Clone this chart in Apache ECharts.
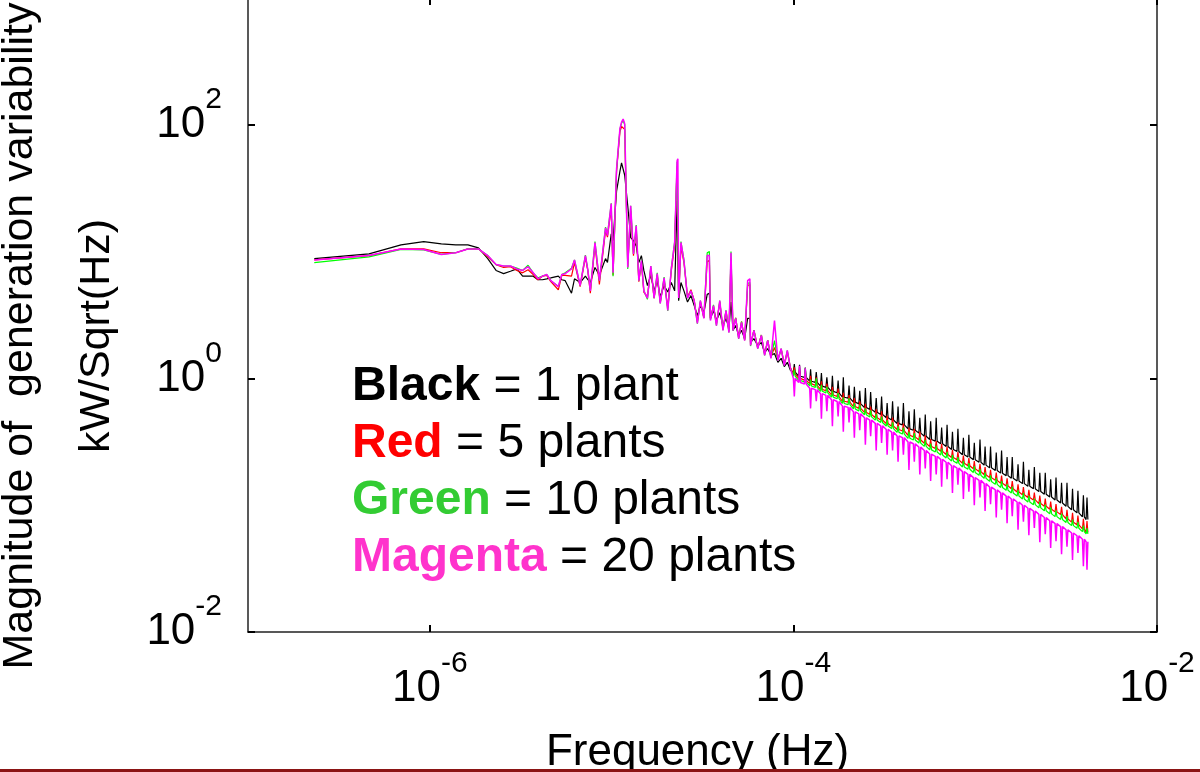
<!DOCTYPE html>
<html>
<head>
<meta charset="utf-8">
<script src="https://cdn.jsdelivr.net/npm/echarts@6/dist/echarts.min.js"></script>
<style>
  html, body { margin: 0; background: #fff; }
  #plot { width: 1200px; height: 772px; }
</style>
</head>
<body>
<div id="plot"></div>
<script>
// spectrum of solar generation, 50 days of 2-min data
// frequency = bin * DF
const DF = 1 / (50 * 86400);

// low / mid frequency bins (up to ~1e-4 Hz)
const lowBins = [1, 2, 3, 4, 5, 6, 7, 8, 9, 10, 11, 12, 13, 14, 15, 16, 17, 18, 19, 20,
  22, 23, 24, 26, 27, 29, 31, 32, 33, 35, 37,
  40, 41, 43, 44, 46, 48, 49, 50, 51,
  53, 55, 57, 59, 61, 63, 65, 68, 71, 74, 77, 80, 84, 88, 92, 96,
  99, 100, 101, 104, 108, 113, 118, 123, 128, 133, 139,
  145, 149, 150, 151, 157, 163, 170, 177, 184, 191, 196,
  199, 200, 201, 208, 216, 224, 233, 242, 249, 250, 251,
  262, 275, 288, 300, 312, 325, 340, 355, 370, 385, 400, 416];

// high frequency bins, in triples: base bin, spike bin, bin after the spike
const highBins = [432, 437, 442, 462, 467, 472, 497, 502, 508, 531, 537, 543, 570, 577, 584,
  609, 616, 623, 652, 660, 668, 700, 708, 716, 752, 761, 770, 804, 813, 822,
  864, 874, 884, 924, 935, 946, 989, 1001, 1013, 1063, 1075, 1088, 1136, 1149, 1163,
  1218, 1233, 1248, 1305, 1320, 1336, 1400, 1416, 1433, 1499, 1517, 1535, 1607, 1626, 1645,
  1719, 1740, 1761, 1845, 1867, 1889, 1974, 1998, 2022, 2117, 2142, 2168, 2268, 2295, 2322,
  2428, 2457, 2486, 2605, 2636, 2668, 2791, 2824, 2858, 2989, 3025, 3061, 3201, 3239, 3278,
  3430, 3471, 3513, 3676, 3720, 3765, 3940, 3987, 4035, 4221, 4271, 4322, 4536, 4590, 4645,
  4838, 4896, 4955, 5184, 5246, 5309, 5573, 5640, 5708, 5962, 6033, 6105, 6394, 6470, 6548,
  6826, 6908, 6991, 7344, 7432, 7521, 7862, 7956, 8051, 8424, 8525, 8627, 9029, 9137, 9247,
  9677, 9793, 9911, 10368, 10492, 10618, 11102, 11235, 11370, 11880, 12022, 12166, 12744, 12897, 13052,
  13651, 13815, 13981, 14645, 14820, 14998, 15682, 15870, 16060, 16805, 17006, 17210, 17600, 17800, 18000];

// kW/sqrt(Hz); high arrays are (base, spike) pairs, one per triple above
const blackLow = [8.8, 9.6, 11.3, 12.0, 11.5, 11.3, 11.3, 10.7, 8.8, 7.1, 6.7, 7.0, 7.3, 6.4, 6.4, 6.4, 6.0, 6.0, 6.1, 6.2,
  6.4, 6.0, 5.9, 4.7, 6.1, 5.7, 6.4, 6.0, 5.7, 7.5, 6.5,
  8.8, 8.2, 13.8, 12.2, 30, 43, 50, 50, 40,
  23, 12.9, 12.2, 11.1, 8.2, 9.3, 7.1, 5.4, 6.5, 4.9, 5.9, 4.4, 5.4, 4.8, 5.7, 4.9,
  25, 25, 4.1, 5.7, 4.9, 4.0, 4.5, 3.75, 3.13, 3.75, 3.30,
  4.6, 4.7, 4.7, 2.97, 3.43, 2.86, 3.30, 2.61, 2.97, 2.47, 4.0,
  4.0, 4.0, 2.39, 2.61, 2.18, 2.39, 2.06, 2.97, 2.97, 2.97, 1.92,
  2.06, 1.82, 1.92, 1.60, 1.72, 1.52, 1.57, 1.34, 1.44, 1.24, 1.34, 1.16];
const blackHigh = [1.12, 1.30, 1.04, 1.28, 1.02, 1.22, 0.95, 1.18, 0.93, 1.12, 0.87, 1.10, 0.85, 1.02, 0.79, 1.05, 0.77, 0.96, 0.71, 1.02,
  0.70, 0.88, 0.65, 0.86, 0.63, 0.80, 0.59, 0.84, 0.57, 0.78, 0.54, 0.70, 0.52, 0.72, 0.49, 0.64, 0.47, 0.66, 0.44, 0.60,
  0.43, 0.64, 0.40, 0.55, 0.39, 0.57, 0.37, 0.49, 0.35, 0.52, 0.33, 0.46, 0.32, 0.49, 0.305, 0.41, 0.29, 0.43, 0.275, 0.38,
  0.265, 0.40, 0.25, 0.34, 0.24, 0.36, 0.228, 0.31, 0.218, 0.33, 0.207, 0.29, 0.197, 0.29, 0.188, 0.26, 0.179, 0.27, 0.171, 0.24,
  0.163, 0.24, 0.155, 0.21, 0.148, 0.22, 0.141, 0.19, 0.135, 0.20, 0.128, 0.18, 0.122, 0.18, 0.116, 0.16, 0.110, 0.165, 0.104, 0.15,
  0.098, 0.15, 0.092, 0.135, 0.087, 0.13, 0.081, 0.12, 0.077, 0.115];

const redLow = [8.6, 9.3, 10.5, 10.5, 9.8, 9.8, 10.5, 10.5, 9.1, 7.9, 7.5, 7.6, 7.1, 6.8, 7.2, 6.6, 6.0, 6.4, 6.5, 5.8,
  5.0, 6.5, 6.5, 6.4, 8.2, 5.3, 9.0, 7.0, 4.7, 11.3, 5.5,
  14.6, 13.0, 22, 6.5, 43, 88, 97, 100, 92,
  7.6, 21, 9.3, 15, 5.8, 8.2, 4.8, 4.4, 7.4, 4.3, 6.5, 4.0, 6.0, 3.6, 7.0, 11.3,
  47, 48, 4.4, 11.0, 8.2, 4.4, 5.0, 4.1, 2.8, 4.0, 3.0,
  8.4, 8.5, 8.6, 3.0, 3.7, 2.7, 4.0, 2.45, 3.4, 2.35, 8.8,
  9.0, 9.0, 2.45, 3.0, 2.1, 2.8, 2.0, 5.4, 5.5, 5.4, 1.85,
  2.4, 1.75, 2.2, 1.55, 2.0, 1.48, 1.75, 1.42, 1.70, 1.30, 1.62, 1.22];
const redHigh = [1.08, 1.22, 1.00, 1.14, 0.97, 1.10, 0.91, 1.05, 0.88, 1.02, 0.82, 0.95, 0.80, 0.91, 0.74, 0.86, 0.72, 0.83, 0.66, 0.77,
  0.65, 0.74, 0.60, 0.70, 0.58, 0.66, 0.54, 0.63, 0.52, 0.60, 0.49, 0.57, 0.47, 0.55, 0.44, 0.51, 0.42, 0.49, 0.395, 0.45,
  0.385, 0.44, 0.356, 0.41, 0.346, 0.40, 0.327, 0.38, 0.308, 0.355, 0.29, 0.333, 0.28, 0.32, 0.266, 0.305, 0.251, 0.29, 0.238, 0.273,
  0.228, 0.262, 0.214, 0.246, 0.205, 0.235, 0.194, 0.223, 0.184, 0.212, 0.174, 0.20, 0.165, 0.19, 0.157, 0.181, 0.149, 0.171, 0.142, 0.163,
  0.135, 0.155, 0.127, 0.146, 0.121, 0.139, 0.115, 0.132, 0.110, 0.126, 0.103, 0.119, 0.098, 0.113, 0.093, 0.107, 0.0886, 0.102, 0.0843, 0.097,
  0.078, 0.092, 0.0735, 0.087, 0.070, 0.083, 0.065, 0.078, 0.061, 0.075];

const greenLow = [8.2, 9.1, 10.4, 10.3, 9.5, 9.8, 10.5, 10.5, 9.3, 7.9, 7.7, 7.7, 7.4, 7.1, 7.8, 6.8, 6.2, 6.4, 6.6, 5.9,
  5.3, 6.6, 6.8, 7.4, 8.6, 5.4, 9.4, 7.1, 4.9, 12.0, 5.9,
  15.6, 13.6, 24, 6.4, 44, 92, 103, 108, 100,
  7.3, 23, 9.6, 16.2, 5.9, 8.5, 4.9, 4.2, 7.7, 4.3, 6.8, 3.9, 6.3, 3.4, 7.4, 12.0,
  51, 52, 4.3, 12.0, 8.6, 4.3, 4.9, 4.1, 2.7, 4.1, 3.0,
  9.8, 10.0, 10.2, 2.9, 3.8, 2.6, 4.1, 2.4, 3.45, 2.3, 10.0,
  10.0, 10.0, 2.4, 3.0, 2.05, 2.8, 2.0, 5.6, 5.7, 5.6, 1.8,
  2.4, 1.72, 2.2, 1.52, 2.0, 1.45, 1.99, 1.38, 1.72, 1.27, 1.66, 1.21];
const greenHigh = [1.04, 1.17, 0.963, 1.08, 0.94, 1.20, 0.872, 0.98, 0.849, 1.00, 0.791, 0.89, 0.769, 0.86, 0.712, 0.80, 0.691, 0.77, 0.634, 0.71,
  0.622, 0.70, 0.575, 0.64, 0.554, 0.62, 0.517, 0.58, 0.497, 0.56, 0.469, 0.525, 0.449, 0.50, 0.421, 0.47, 0.402, 0.45, 0.375, 0.42,
  0.364, 0.41, 0.337, 0.38, 0.327, 0.37, 0.309, 0.346, 0.291, 0.326, 0.273, 0.306, 0.263, 0.295, 0.249, 0.279, 0.236, 0.264, 0.223, 0.25,
  0.214, 0.24, 0.200, 0.224, 0.192, 0.215, 0.181, 0.203, 0.172, 0.193, 0.163, 0.182, 0.154, 0.172, 0.146, 0.164, 0.138, 0.155, 0.131, 0.147,
  0.125, 0.140, 0.118, 0.132, 0.112, 0.125, 0.106, 0.119, 0.101, 0.113, 0.0952, 0.107, 0.0903, 0.101, 0.0854, 0.096, 0.0813, 0.091, 0.0772, 0.086,
  0.0731, 0.082, 0.069, 0.077, 0.0658, 0.074, 0.0619, 0.069, 0.0594, 0.066];

const magentaLow = [8.6, 9.3, 10.5, 10.4, 9.5, 9.8, 10.5, 10.5, 9.3, 7.9, 7.7, 7.7, 7.3, 7.1, 7.6, 6.8, 6.1, 6.4, 6.6, 5.9,
  5.3, 6.6, 6.7, 7.3, 8.6, 5.4, 9.3, 7.1, 4.9, 11.8, 5.9,
  15.4, 13.4, 23.9, 6.8, 45, 93, 105, 111, 102,
  7.5, 23, 9.6, 16, 5.9, 8.5, 4.9, 4.3, 7.7, 4.3, 6.7, 3.9, 6.2, 3.43, 7.3, 11.8,
  52, 54, 4.3, 11.8, 8.5, 4.3, 4.9, 4.1, 2.71, 4.1, 2.97,
  9.3, 9.3, 9.6, 2.86, 3.75, 2.61, 4.1, 2.39, 3.43, 2.30, 9.8,
  9.8, 9.8, 2.39, 2.97, 2.06, 2.76, 1.99, 5.9, 6.1, 5.9, 1.82,
  2.39, 1.72, 2.18, 1.52, 1.99, 1.44, 2.86, 1.38, 1.72, 1.26, 1.66, 1.20];
const magentaHigh = [1.00, 0.72, 0.928, 1.26, 0.904, 1.20, 0.837, 0.58, 0.815, 0.66, 0.758, 0.48, 0.735, 0.55, 0.679, 0.42, 0.658, 0.50, 0.604, 0.38,
  0.591, 0.45, 0.545, 0.34, 0.525, 0.39, 0.489, 0.30, 0.469, 0.35, 0.442, 0.27, 0.423, 0.31, 0.396, 0.25, 0.377, 0.27, 0.351, 0.22,
  0.341, 0.25, 0.315, 0.19, 0.305, 0.22, 0.287, 0.175, 0.27, 0.195, 0.253, 0.155, 0.243, 0.175, 0.23, 0.14, 0.218, 0.16, 0.205, 0.125,
  0.196, 0.145, 0.184, 0.112, 0.175, 0.128, 0.165, 0.10, 0.157, 0.115, 0.148, 0.09, 0.139, 0.102, 0.132, 0.08, 0.125, 0.092, 0.118, 0.072,
  0.112, 0.082, 0.106, 0.064, 0.100, 0.074, 0.0946, 0.058, 0.0899, 0.066, 0.0846, 0.051, 0.0799, 0.059, 0.0754, 0.046, 0.0716, 0.052, 0.0678, 0.041,
  0.064, 0.047, 0.0604, 0.037, 0.0574, 0.042, 0.0539, 0.033, 0.0515, 0.031];

const seriesNames = ["Black", "Red", "Green", "Magenta"];
const plantCounts = [1, 5, 10, 20];
const lineColors = ["#000000", "#ff0000", "#00ff00", "#ff00ff"];
const textColors = ["#000000", "#ff0000", "#33cc33", "#ff33cc"];
const xTicks = [1e-6, 1e-4, 1e-2];
const yTicks = [1e-2, 1, 1e2];

const FONT = '"Liberation Sans", Arial, sans-serif';

// low part: one point per bin; high part: a spike is one bin wide,
// the bin after it is back at the base level
function buildPoints(lowVals, highVals) {
  const pts = lowBins.map((k, i) => [k * DF, lowVals[i]]);
  for (let n = 0; n < highVals.length / 2; n++) {
    const base = highVals[2 * n];
    const spike = highVals[2 * n + 1];
    pts.push([highBins[3 * n] * DF, base]);
    pts.push([highBins[3 * n + 1] * DF, spike]);
    pts.push([highBins[3 * n + 2] * DF, base]);
  }
  return pts;
}

const allPoints = [
  buildPoints(blackLow, blackHigh),
  buildPoints(redLow, redHigh),
  buildPoints(greenLow, greenHigh),
  buildPoints(magentaLow, magentaHigh),
];

function powerLabel(value) {
  const exp = Math.round(Math.log10(value));
  return "{b|10}{s|" + exp + "}";
}

const tickRich = {
  b: { fontSize: 44, lineHeight: 80, fontFamily: FONT, color: "#000" },
  s: { fontSize: 30, lineHeight: 30, fontFamily: FONT, color: "#000", verticalAlign: "top" },
};

const frameLine = { show: true, lineStyle: { color: "#222", width: 1.5 } };
const frameTick = { show: true, inside: true, length: 7, lineStyle: { color: "#000", width: 2 } };

const chart = echarts.init(document.getElementById("plot"), null, { renderer: "canvas" });

const option = {
  animation: false,
  backgroundColor: "#fff",
  grid: { left: 248, right: 43, top: -2, bottom: 140, containLabel: false, outerBoundsMode: "none" },
  xAxis: [
    {
      type: "log",
      logBase: 10,
      min: 1e-7,
      max: 1e-2,
      position: "bottom",
      axisLine: frameLine,
      axisTick: Object.assign({ customValues: xTicks }, frameTick),
      minorTick: { show: false },
      splitLine: { show: false },
      axisLabel: { customValues: xTicks, margin: 17, formatter: powerLabel, rich: tickRich },
      name: "Frequency (Hz)",
      nameLocation: "middle",
      nameGap: 99,
      nameTextStyle: { fontSize: 44, lineHeight: 44, fontFamily: FONT, color: "#000", padding: [0, 10, 0, 0] },
    },
    {
      type: "log",
      logBase: 10,
      min: 1e-7,
      max: 1e-2,
      position: "top",
      axisLine: frameLine,
      axisTick: Object.assign({ customValues: xTicks }, frameTick),
      axisLabel: { show: false },
      splitLine: { show: false },
    },
  ],
  yAxis: [
    {
      type: "log",
      logBase: 10,
      min: 1e-2,
      max: 1e3,
      position: "left",
      axisLine: frameLine,
      axisTick: Object.assign({ customValues: yTicks }, frameTick),
      minorTick: { show: false },
      splitLine: { show: false },
      axisLabel: { customValues: yTicks, margin: 26, formatter: powerLabel, rich: tickRich },
      name: "Magnitude of  generation variability\nkW/Sqrt(Hz)",
      nameLocation: "middle",
      nameGap: 85,
      nameTextStyle: { fontSize: 43, lineHeight: 77, fontFamily: FONT, color: "#000", padding: [0, 42, 0, 0] },
    },
    {
      type: "log",
      logBase: 10,
      min: 1e-2,
      max: 1e3,
      position: "right",
      axisLine: frameLine,
      axisTick: Object.assign({ customValues: yTicks }, frameTick),
      axisLabel: { show: false },
      splitLine: { show: false },
    },
  ],
  series: seriesNames.map((name, i) => ({
    name: name,
    type: "line",
    showSymbol: false,
    silent: true,
    data: allPoints[i],
    lineStyle: { color: lineColors[i], width: i === 3 ? 1.5 : 1.2 },
  })),
  graphic: [
    {
      type: "text",
      left: 352,
      top: 358,
      z: 50,
      style: {
        text: seriesNames
          .map((n, i) => "{c" + i + "|" + n + "} = " + plantCounts[i] + (plantCounts[i] === 1 ? " plant" : " plants"))
          .join("\n"),
        fontSize: 48,
        fontFamily: FONT,
        lineHeight: 57,
        fill: "#000",
        rich: Object.fromEntries(
          textColors.map((c, i) => ["c" + i, { fontSize: 48, fontFamily: FONT, fontWeight: "bold", lineHeight: 57, fill: c }])
        ),
      },
    },
    {
      type: "rect",
      left: 0,
      top: 769,
      z: 60,
      shape: { width: 1200, height: 3 },
      style: { fill: "#8b1414" },
    },
  ],
};

chart.setOption(option);
</script>
</body>
</html>
